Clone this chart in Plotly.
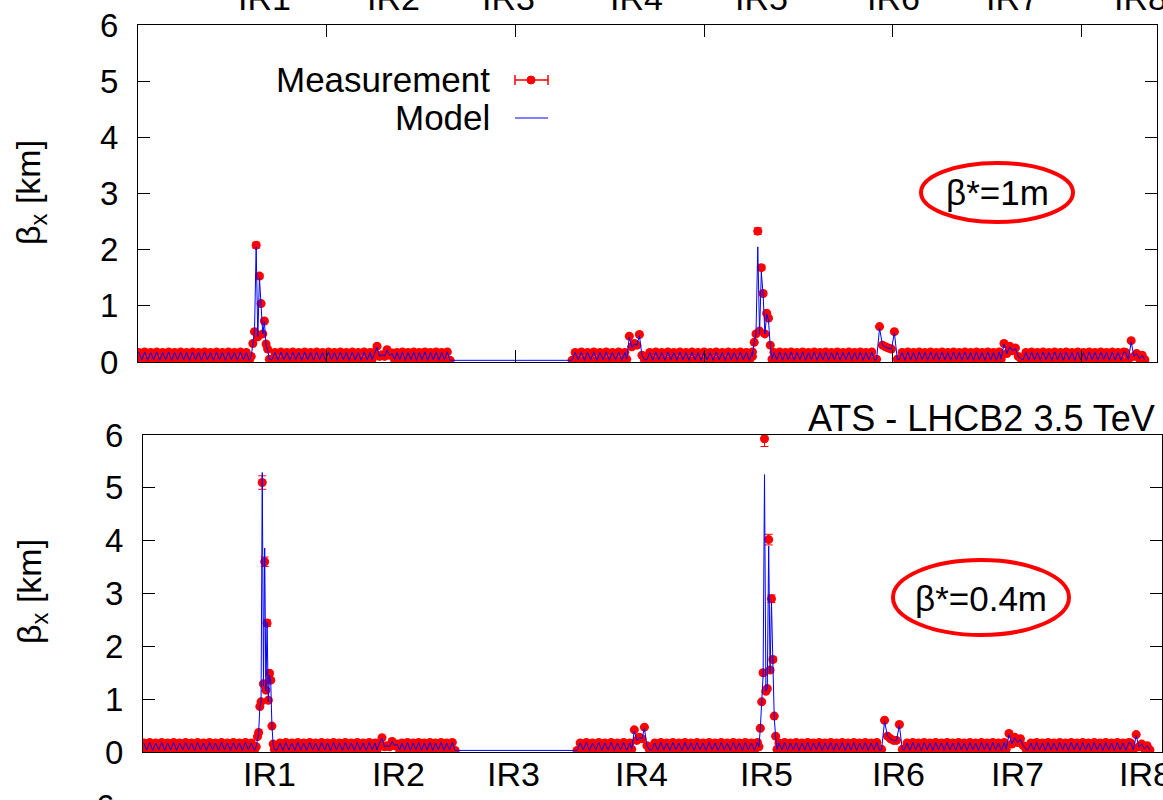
import numpy as np
import plotly.graph_objects as go

W, H = 1163, 800

# ---------------- data (beta_x in km, s in km) ----------------
ir_names = ["IR1", "IR2", "IR3", "IR4", "IR5", "IR6", "IR7", "IR8"]
ir_pos = [3.35, 6.78, 9.83, 13.22, 16.53, 20.03, 23.17, 26.57]

# arc BPM readings (same optics in both configurations)
arc1 = [0.17, 0.04, 0.18, 0.03, 0.17, 0.04, 0.18, 0.03, 0.17, 0.04,
        0.18, 0.03, 0.17, 0.04, 0.18, 0.04, 0.17, 0.03, 0.18, 0.04,
        0.17, 0.03, 0.18, 0.04, 0.17, 0.03, 0.18, 0.04, 0.17, 0.03,
        0.18, 0.04, 0.17, 0.03, 0.18, 0.04, 0.17, 0.03]
arc2 = [0.04, 0.17, 0.03, 0.18, 0.04, 0.17, 0.03, 0.18, 0.04, 0.17,
        0.03, 0.18, 0.04, 0.17, 0.03, 0.18, 0.04, 0.17, 0.03, 0.18,
        0.04, 0.17, 0.03, 0.18, 0.04, 0.17, 0.03, 0.18, 0.04, 0.17,
        0.03, 0.18, 0.04, 0.17]
arc3 = [0.17, 0.04, 0.18, 0.03, 0.17, 0.04, 0.18, 0.03, 0.17, 0.04,
        0.18, 0.03, 0.17, 0.04, 0.18, 0.03, 0.17, 0.04, 0.18, 0.03]
arc4 = [0.03, 0.17, 0.04, 0.18, 0.03, 0.17, 0.04, 0.18, 0.03, 0.17,
        0.04, 0.18, 0.03, 0.17, 0.04, 0.18, 0.03, 0.17]
arc5 = [0.04, 0.17, 0.03, 0.18, 0.04, 0.17, 0.03, 0.18, 0.04, 0.17,
        0.03, 0.18, 0.04, 0.17, 0.03, 0.18, 0.04, 0.17, 0.03, 0.18,
        0.04, 0.17, 0.03, 0.18, 0.04, 0.17, 0.03, 0.18, 0.04, 0.17,
        0.03, 0.18, 0.04, 0.17, 0.03, 0.18]
arc6 = [0.17, 0.04, 0.18, 0.03, 0.17, 0.04, 0.18, 0.03, 0.17, 0.04,
        0.18, 0.03, 0.17, 0.04, 0.18, 0.03, 0.17, 0.04, 0.18, 0.03,
        0.17, 0.04, 0.18, 0.03, 0.17, 0.04, 0.18, 0.03, 0.17, 0.04,
        0.18, 0.03, 0.17, 0.04, 0.18, 0.03]
arc7 = [0.04, 0.17, 0.03, 0.18, 0.04, 0.17, 0.03, 0.18, 0.04, 0.17,
        0.03, 0.18, 0.04, 0.17, 0.03, 0.18, 0.04, 0.17, 0.03, 0.18,
        0.04, 0.17, 0.03, 0.18, 0.04, 0.17, 0.03, 0.18, 0.04, 0.17,
        0.03, 0.18, 0.04, 0.17, 0.03, 0.18]
arc8 = [0.04, 0.17, 0.03, 0.18, 0.04, 0.17, 0.03, 0.18, 0.04, 0.17,
        0.03, 0.18, 0.04, 0.17, 0.03, 0.18, 0.04, 0.17, 0.03, 0.18,
        0.04, 0.17, 0.03, 0.18, 0.04, 0.17, 0.03, 0.18, 0.04, 0.17,
        0.03, 0.18, 0.04, 0.17, 0.03, 0.18]
arc_vals = [arc1, arc2, arc3, arc4, arc5, arc6, arc7, arc8]
arc_ranges = [(0.02, 2.95), (3.55, 6.15), (6.86, 8.27), (11.50, 12.90),
              (13.48, 16.28), (16.85, 19.52), (20.17, 22.82), (23.45, 26.12)]

# insertion-region readings, beta* = 1 m
ir_ranges_1m = {"IR1": (3.00, 3.48), "IR2": (6.20, 6.80), "IR4": (12.95, 13.42),
                "IR5": (16.28, 16.80), "IR6": (19.57, 20.12), "IR7": (22.87, 23.40),
                "IR8": (26.17, 26.68)}
meas_1m = {
    "IR1": [0.10, 0.33, 0.54, 2.08, 0.45, 1.53, 1.04, 0.50, 0.73, 0.32, 0.23, 0.05],
    "IR2": [0.04, 0.17, 0.28, 0.10, 0.13, 0.10, 0.22, 0.12, 0.16, 0.04],
    "IR4": [0.05, 0.46, 0.27, 0.33, 0.30, 0.49, 0.12, 0.04],
    "IR5": [0.10, 0.35, 0.50, 2.33, 0.55, 1.68, 1.22, 0.50, 0.87, 0.78, 0.30, 0.05],
    "IR6": [0.05, 0.63, 0.30, 0.27, 0.25, 0.23, 0.54, 0.05],
    "IR7": [0.05, 0.33, 0.15, 0.28, 0.20, 0.25, 0.10, 0.05],
    "IR8": [0.17, 0.04, 0.38, 0.10, 0.15, 0.06, 0.12, 0.04],
}
model_1m = {
    "IR1": [0.10, 0.35, 0.55, 2.05, 0.45, 1.50, 1.05, 0.50, 0.72, 0.30, 0.20, 0.05],
    "IR2": [0.04, 0.17, 0.26, 0.10, 0.13, 0.10, 0.21, 0.12, 0.15, 0.04],
    "IR4": [0.05, 0.44, 0.26, 0.32, 0.30, 0.47, 0.12, 0.04],
    "IR5": [0.10, 0.35, 0.50, 2.05, 0.50, 1.60, 1.20, 0.50, 0.85, 0.75, 0.28, 0.05],
    "IR6": [0.05, 0.60, 0.30, 0.26, 0.25, 0.23, 0.52, 0.05],
    "IR7": [0.05, 0.32, 0.15, 0.27, 0.20, 0.24, 0.10, 0.05],
    "IR8": [0.17, 0.04, 0.36, 0.10, 0.15, 0.06, 0.12, 0.04],
}

# insertion-region readings, beta* = 0.4 m
ir_ranges_04m = {"IR1": (3.00, 3.48), "IR2": (6.20, 6.80), "IR4": (12.95, 13.42),
                 "IR5": (16.32, 16.80), "IR6": (19.57, 20.12), "IR7": (22.87, 23.40),
                 "IR8": (26.17, 26.68)}
meas_04m = {
    "IR1": [0.10, 0.29, 0.37, 0.86, 0.95, 5.10, 1.29, 3.60, 1.17, 2.44, 0.98, 1.49, 1.36, 0.49, 0.15, 0.05],
    "IR2": [0.04, 0.17, 0.27, 0.10, 0.12, 0.10, 0.20, 0.12, 0.15, 0.04],
    "IR4": [0.05, 0.42, 0.22, 0.28, 0.25, 0.47, 0.12, 0.04],
    "IR5": [0.10, 0.45, 0.95, 1.50, 5.93, 1.15, 1.20, 4.02, 1.55, 2.90, 1.75, 0.68, 0.30, 0.05],
    "IR6": [0.05, 0.60, 0.30, 0.25, 0.22, 0.22, 0.52, 0.05],
    "IR7": [0.05, 0.35, 0.15, 0.28, 0.18, 0.25, 0.12, 0.05],
    "IR8": [0.17, 0.04, 0.33, 0.10, 0.15, 0.06, 0.12, 0.04],
}
model_04m = {
    "IR1": [0.10, 0.28, 0.37, 0.85, 0.95, 5.29, 1.25, 3.86, 1.15, 2.45, 0.95, 1.45, 1.35, 0.50, 0.15, 0.05],
    "IR2": [0.04, 0.17, 0.26, 0.10, 0.12, 0.10, 0.20, 0.12, 0.15, 0.04],
    "IR4": [0.05, 0.40, 0.22, 0.27, 0.25, 0.45, 0.12, 0.04],
    "IR5": [0.10, 0.45, 0.95, 1.45, 5.25, 1.15, 1.20, 3.90, 1.50, 2.85, 1.70, 0.65, 0.28, 0.05],
    "IR6": [0.05, 0.58, 0.30, 0.25, 0.22, 0.22, 0.50, 0.05],
    "IR7": [0.05, 0.33, 0.15, 0.27, 0.18, 0.24, 0.12, 0.05],
    "IR8": [0.17, 0.04, 0.31, 0.10, 0.15, 0.06, 0.12, 0.04],
}

# ring order of segments
segment_order = [("arc", 0), ("ir", "IR1"), ("arc", 1), ("ir", "IR2"), ("arc", 2),
                 ("arc", 3), ("ir", "IR4"), ("arc", 4), ("ir", "IR5"), ("arc", 5),
                 ("ir", "IR6"), ("arc", 6), ("ir", "IR7"), ("arc", 7), ("ir", "IR8")]


def build(meas, model, ranges):
    s, m, mo = [], [], []
    for kind, key in segment_order:
        if kind == "arc":
            a, b = arc_ranges[key]
            v = arc_vals[key]
            s += list(np.linspace(a, b, len(v)))
            m += v
            mo += v
        else:
            a, b = ranges[key]
            s += list(np.linspace(a, b, len(meas[key])))
            m += meas[key]
            mo += model[key]
    return s, m, mo


s1, m1, mo1 = build(meas_1m, model_1m, ir_ranges_1m)
s2, m2, mo2 = build(meas_04m, model_04m, ir_ranges_04m)

# ---------------- figure ----------------
FONT = "Liberation Sans, Arial, sans-serif"
RED = "#ff0000"
BLUE = "#0000ff"

fig = go.Figure()
err = dict(type="percent", value=2.5, color=RED, thickness=1, width=4)
fig.add_trace(go.Scatter(x=s1, y=m1, mode="markers", marker=dict(color=RED, size=9),
                         error_y=err, xaxis="x", yaxis="y", showlegend=False))
fig.add_trace(go.Scatter(x=s1, y=mo1, mode="lines", line=dict(color=BLUE, width=1),
                         xaxis="x", yaxis="y", showlegend=False))
fig.add_trace(go.Scatter(x=s2, y=m2, mode="markers", marker=dict(color=RED, size=9),
                         error_y=err, xaxis="x2", yaxis="y2", showlegend=False))
fig.add_trace(go.Scatter(x=s2, y=mo2, mode="lines", line=dict(color=BLUE, width=1),
                         xaxis="x2", yaxis="y2", showlegend=False))


def px(x):
    return x / W


def py(y):
    return 1 - y / H


axis_common = dict(showline=True, linecolor="black", linewidth=1, showgrid=False,
                   zeroline=False, fixedrange=True, automargin=False)
tickfont = dict(family=FONT, size=33, color="black")

fig.update_layout(
    width=W, height=H, margin=dict(l=0, r=0, t=0, b=0, pad=0, autoexpand=False),
    paper_bgcolor="white", plot_bgcolor="white",
    font=dict(family=FONT, color="black"),
    xaxis=dict(domain=[px(138), px(1157)], range=[0, 27], anchor="y",
               tickvals=[0, 5, 10, 15, 20, 25], ticks="inside", ticklen=12,
               tickcolor="black", mirror="ticks", showticklabels=False, **axis_common),
    yaxis=dict(domain=[py(362), py(25)], range=[0, 6], anchor="x",
               tickvals=[0, 1, 2, 3, 4, 5, 6], ticks="inside", ticklen=12,
               tickcolor="black", mirror="ticks", tickfont=tickfont,
               ticklabelstandoff=12, **axis_common),
    xaxis2=dict(domain=[px(143), px(1162)], range=[0, 27], anchor="y2",
                ticks="", mirror=True, showticklabels=False, **axis_common),
    yaxis2=dict(domain=[py(752), py(435)], range=[0, 6], anchor="x2",
                tickvals=[0, 1, 2, 3, 4, 5, 6], ticks="inside", ticklen=12,
                tickcolor="black", mirror="ticks", tickfont=tickfont,
                ticklabelstandoff=12, **axis_common),
)

ann = []


def text(t, x, y, size, xanchor="center", yanchor="middle", angle=0):
    ann.append(dict(text=t, x=px(x), y=py(y), xref="paper", yref="paper",
                    xanchor=xanchor, yanchor=yanchor, textangle=angle,
                    showarrow=False, font=dict(family=FONT, size=size, color="black")))


text("β<sub>x</sub> [km]", 31, 193, 34, angle=-90)
text("β<sub>x</sub> [km]", 31, 592, 34, angle=-90)
text("Measurement", 492, 80, 35, xanchor="right")
text("Model", 492, 117, 35, xanchor="right")
text("ATS - LHCB2 3.5 TeV", 1157, 418, 36, xanchor="right")
text("β*=1m", 997, 192, 35)
text("β*=0.4m", 981, 598, 35)
text("6", 105, 806, 33)
# IR labels under the lower panel, and those of the panel above (clipped at the top)
for name, pos in zip(ir_names, ir_pos):
    ann.append(dict(text=name, x=pos, y=py(774), xref="x2", yref="paper",
                    xanchor="center", yanchor="middle", showarrow=False,
                    font=dict(family=FONT, size=34, color="black")))
    ann.append(dict(text=name, x=pos, y=py(-2), xref="x", yref="paper",
                    xanchor="center", yanchor="middle", showarrow=False,
                    font=dict(family=FONT, size=34, color="black")))
fig.update_layout(annotations=ann)

shapes = []


def line(x0, y0, x1, y1, color, w):
    shapes.append(dict(type="line", xref="paper", yref="paper", x0=px(x0), y0=py(y0),
                       x1=px(x1), y1=py(y1), line=dict(color=color, width=w)))


# legend keys
line(515, 80, 548, 80, RED, 1.5)
line(515, 75, 515, 85, RED, 1.5)
line(548, 75, 548, 85, RED, 1.5)
shapes.append(dict(type="circle", xref="paper", yref="paper", x0=px(527), x1=px(535),
                   y0=py(84), y1=py(76), fillcolor=RED, line=dict(color=RED, width=1)))
line(515, 118, 548, 118, BLUE, 1)
# ellipses
shapes.append(dict(type="circle", xref="paper", yref="paper", x0=px(921), x1=px(1073),
                   y0=py(222), y1=py(163), line=dict(color=RED, width=4)))
shapes.append(dict(type="circle", xref="paper", yref="paper", x0=px(893), x1=px(1069),
                   y0=py(635), y1=py(560), line=dict(color=RED, width=4)))
fig.update_layout(shapes=shapes)

fig.write_html("out.html")
